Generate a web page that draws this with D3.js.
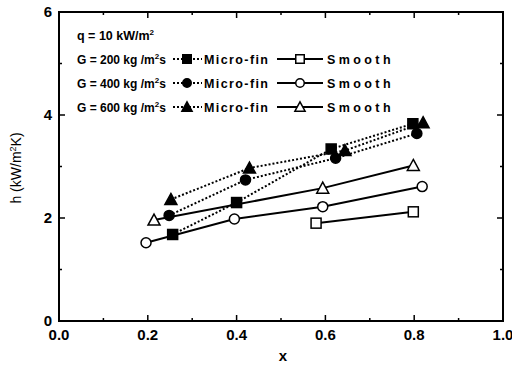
<!DOCTYPE html>
<html>
<head>
<meta charset="utf-8">
<script src="https://cdn.jsdelivr.net/npm/d3@7"></script>
<style>
  body { margin: 0; background: #fff; }
  svg { display: block; font-family: "Liberation Sans", Arial, sans-serif; }
</style>
</head>
<body>
<div id="chart"></div>
<script>
// data: quality x, heat transfer coefficient h (kW/m2K)
const mf200X = [0.256, 0.40, 0.613, 0.797];
const mf200H = [1.68, 2.30, 3.34, 3.83];
const mf400X = [0.248, 0.42, 0.623, 0.806];
const mf400H = [2.05, 2.74, 3.16, 3.64];
const mf600X = [0.252, 0.429, 0.644, 0.82];
const mf600H = [2.36, 2.97, 3.31, 3.85];
const sm200X = [0.579, 0.798];
const sm200H = [1.90, 2.12];
const sm400X = [0.196, 0.395, 0.594, 0.818];
const sm400H = [1.52, 1.98, 2.22, 2.61];
const sm600X = [0.214, 0.594, 0.798];
const sm600H = [1.96, 2.58, 3.02];

const xTicks = [0, 0.2, 0.4, 0.6, 0.8, 1.0];
const yTicks = [0, 2, 4, 6];
const legendRows = ["200", "400", "600"];

const W = 512, H = 371;
const margin = { top: 12, right: 9, bottom: 50, left: 59 };

const svg = d3.select("#chart").append("svg")
    .attr("width", W)
    .attr("height", H);

const x = d3.scaleLinear().domain([0, 1]).range([margin.left, W - margin.right]);
const y = d3.scaleLinear().domain([0, 6]).range([H - margin.bottom, margin.top]);

// frame
svg.append("rect")
    .attr("x", x(0)).attr("y", y(6))
    .attr("width", x(1) - x(0)).attr("height", y(0) - y(6))
    .attr("fill", "none").attr("stroke", "#000").attr("stroke-width", 2);

// inward ticks on all four sides
const ticksG = svg.append("g").attr("stroke", "#000").attr("stroke-width", 1.5);
d3.range(0, 1.0001, 0.1).forEach((v, i) => {
    const len = i % 2 === 0 ? 6 : 3;
    ticksG.append("line").attr("x1", x(v)).attr("x2", x(v)).attr("y1", y(0)).attr("y2", y(0) - len);
    ticksG.append("line").attr("x1", x(v)).attr("x2", x(v)).attr("y1", y(6)).attr("y2", y(6) + len);
});
d3.range(0, 6.0001, 1).forEach((v, i) => {
    const len = i % 2 === 0 ? 6 : 3;
    ticksG.append("line").attr("y1", y(v)).attr("y2", y(v)).attr("x1", x(0)).attr("x2", x(0) + len);
    ticksG.append("line").attr("y1", y(v)).attr("y2", y(v)).attr("x1", x(1)).attr("x2", x(1) - len);
});

// tick labels
svg.append("g").selectAll("text").data(xTicks).enter().append("text")
    .attr("x", d => x(d)).attr("y", y(0) + 19)
    .attr("text-anchor", "middle")
    .attr("font-size", 15).attr("font-weight", "bold")
    .text(d => d.toFixed(1));
svg.append("g").selectAll("text").data(yTicks).enter().append("text")
    .attr("x", x(0) - 7).attr("y", d => y(d) + 5)
    .attr("text-anchor", "end")
    .attr("font-size", 15).attr("font-weight", "bold")
    .text(d => d);

// axis titles
svg.append("text")
    .attr("x", (x(0) + x(1)) / 2 + 2).attr("y", H - 10)
    .attr("text-anchor", "middle").attr("font-size", 15).attr("font-weight", "bold")
    .text("x");
const yt = svg.append("text")
    .attr("transform", `translate(21,168) rotate(-90)`)
    .attr("text-anchor", "middle").attr("font-size", 14)
    .text("h (kW/m");
yt.append("tspan").attr("dy", -5).attr("font-size", 9).text("2");
yt.append("tspan").attr("dy", 5).text("K)");

// markers
function marker(g, type, filled, cx, cy, s = 1) {
    const fill = filled ? "#000" : "#fff";
    if (type === "square") {
        g.append("rect").attr("x", cx - 5 * s).attr("y", cy - 5 * s).attr("width", 10 * s).attr("height", 10 * s)
            .attr("fill", fill).attr("stroke", "#000").attr("stroke-width", 1.5);
    } else if (type === "circle") {
        g.append("circle").attr("cx", cx).attr("cy", cy).attr("r", 5 * s)
            .attr("fill", fill).attr("stroke", "#000").attr("stroke-width", 1.5);
    } else {
        g.append("path").attr("d", `M${cx},${cy - 6 * s}L${cx + 6 * s},${cy + 5 * s}L${cx - 6 * s},${cy + 5 * s}Z`)
            .attr("fill", fill).attr("stroke", "#000").attr("stroke-width", 1.5);
    }
}

const series = [
    { xs: sm200X, hs: sm200H, type: "square", filled: false, dotted: false },
    { xs: sm400X, hs: sm400H, type: "circle", filled: false, dotted: false },
    { xs: sm600X, hs: sm600H, type: "triangle", filled: false, dotted: false },
    { xs: mf200X, hs: mf200H, type: "square", filled: true, dotted: true },
    { xs: mf400X, hs: mf400H, type: "circle", filled: true, dotted: true },
    { xs: mf600X, hs: mf600H, type: "triangle", filled: true, dotted: true }
];

const line = d3.line().x(d => x(d[0])).y(d => y(d[1]));
series.forEach(s => {
    const pts = s.xs.map((v, i) => [v, s.hs[i]]);
    svg.append("path").datum(pts)
        .attr("d", line).attr("fill", "none").attr("stroke", "#000")
        .attr("stroke-width", 2)
        .attr("stroke-dasharray", s.dotted ? "2,2" : null);
});
series.forEach(s => {
    const g = svg.append("g");
    s.xs.forEach((v, i) => marker(g, s.type, s.filled, x(v), y(s.hs[i])));
});

// legend
const lg = svg.append("g").attr("font-weight", "bold");
const q = lg.append("text").attr("x", 77).attr("y", 39.5).attr("font-size", 12.5).text("q = 10 kW/m");
q.append("tspan").attr("dy", -5).attr("font-size", 8).text("2");

const types = ["square", "circle", "triangle"];
legendRows.forEach((g, i) => {
    const cy = 59 + i * 24;
    const t = lg.append("text").attr("x", 77).attr("y", cy + 4.5).attr("font-size", 12)
        .text(`G = ${g} kg /m`);
    t.append("tspan").attr("dy", -5).attr("font-size", 8).text("2");
    t.append("tspan").attr("dy", 5).text("s");
    lg.append("line").attr("x1", 173).attr("x2", 202).attr("y1", cy).attr("y2", cy)
        .attr("stroke", "#000").attr("stroke-width", 2).attr("stroke-dasharray", "2,2");
    marker(lg, types[i], true, 187, cy, 0.85);
    lg.append("text").attr("x", 204).attr("y", cy + 4.5).attr("font-size", 12.5)
        .attr("letter-spacing", 1.4).text("Micro-fin");
    lg.append("line").attr("x1", 277).attr("x2", 323).attr("y1", cy).attr("y2", cy)
        .attr("stroke", "#000").attr("stroke-width", 2);
    marker(lg, types[i], false, 300, cy, 0.85);
    lg.append("text").attr("x", 327).attr("y", cy + 4.5).attr("font-size", 12.5)
        .attr("letter-spacing", 3.4).text("Smooth");
});
</script>
</body>
</html>
